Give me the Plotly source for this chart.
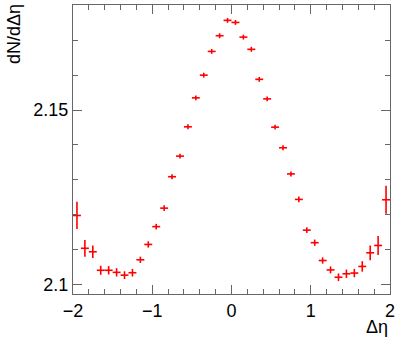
import plotly.graph_objects as go

# bin centres in delta-eta (bin width 0.1)
deta = [-1.95, -1.85, -1.75, -1.65, -1.55, -1.45, -1.35, -1.25, -1.15, -1.05,
        -0.95, -0.85, -0.75, -0.65, -0.55, -0.45, -0.35, -0.25, -0.15, -0.05,
        0.05, 0.15, 0.25, 0.35, 0.45, 0.55, 0.65, 0.75, 0.85, 0.95,
        1.05, 1.15, 1.25, 1.35, 1.45, 1.55, 1.65, 1.75, 1.85, 1.95]

dndeta = [2.1198, 2.1104, 2.1094, 2.1041, 2.1041, 2.1035, 2.1027, 2.1034, 2.1071, 2.1115,
          2.1166, 2.1219, 2.1309, 2.1368, 2.1452, 2.1535, 2.1600, 2.1668, 2.1713, 2.1757,
          2.1751, 2.1709, 2.1674, 2.1588, 2.1532, 2.1451, 2.1392, 2.1317, 2.1244, 2.1156,
          2.1120, 2.1069, 2.1042, 2.1021, 2.1031, 2.1033, 2.1052, 2.1091, 2.1112, 2.1243]

err = [0.0039, 0.0024, 0.0018, 0.0013, 0.0012, 0.0012, 0.0011, 0.0011, 0.0009, 0.0009,
       0.0008, 0.0008, 0.0007, 0.0007, 0.0007, 0.0007, 0.0007, 0.0007, 0.0007, 0.0007,
       0.0007, 0.0007, 0.0007, 0.0007, 0.0007, 0.0007, 0.0007, 0.0007, 0.0008, 0.0008,
       0.0009, 0.0009, 0.0010, 0.0011, 0.0012, 0.0012, 0.0015, 0.0021, 0.0027, 0.0040]

half_bin = 0.05

fig = go.Figure()
fig.add_trace(go.Scatter(
    x=deta, y=dndeta, mode="markers",
    marker=dict(size=1, color="red"),
    error_x=dict(type="constant", value=half_bin, color="red", thickness=1.6, width=0),
    error_y=dict(type="data", array=err, color="red", thickness=1.6, width=0),
    showlegend=False))

axis_col = "#666666"
fig.update_xaxes(range=[-2, 2], showline=True, linecolor=axis_col, linewidth=1, mirror="ticks",
                 ticks="inside", ticklen=9, tickcolor=axis_col, dtick=1, tick0=0,
                 minor=dict(ticks="inside", ticklen=5, dtick=0.2, tick0=0, tickcolor=axis_col),
                 showgrid=False, zeroline=False, tickfont=dict(size=18, color="black"))
fig.update_yaxes(range=[2.0973, 2.1801], showline=True, linecolor=axis_col, linewidth=1, mirror="ticks",
                 ticks="inside", ticklen=9, tickcolor=axis_col,
                 tickmode="array", tickvals=[2.1, 2.15], ticktext=["2.1", "2.15"],
                 minor=dict(ticks="inside", ticklen=5, tickmode="linear", tick0=2.1, dtick=0.01,
                            tickcolor=axis_col),
                 showgrid=False, zeroline=False, tickfont=dict(size=18, color="black"))

fig.add_annotation(text="Δη", xref="paper", yref="paper", x=1, y=0, xanchor="right", yanchor="top",
                   yshift=-21, showarrow=False, font=dict(size=18, color="black"))
fig.add_annotation(text="dN/dΔη", xref="paper", yref="paper", x=0, y=1, xanchor="center", yanchor="top",
                   xshift=-59, yshift=3, textangle=-90, showarrow=False, font=dict(size=18, color="black"))

fig.update_layout(width=399, height=337, margin=dict(l=73, r=7, t=4, b=43),
                  plot_bgcolor="white", paper_bgcolor="white",
                  font=dict(family="Liberation Sans, Arial, sans-serif", color="black"))

# page body has a default margin; drop it so the figure sits at the top-left corner
fig.write_html("out.html", config={"displayModeBar": False},
               post_script="document.body.style.margin='0';")
